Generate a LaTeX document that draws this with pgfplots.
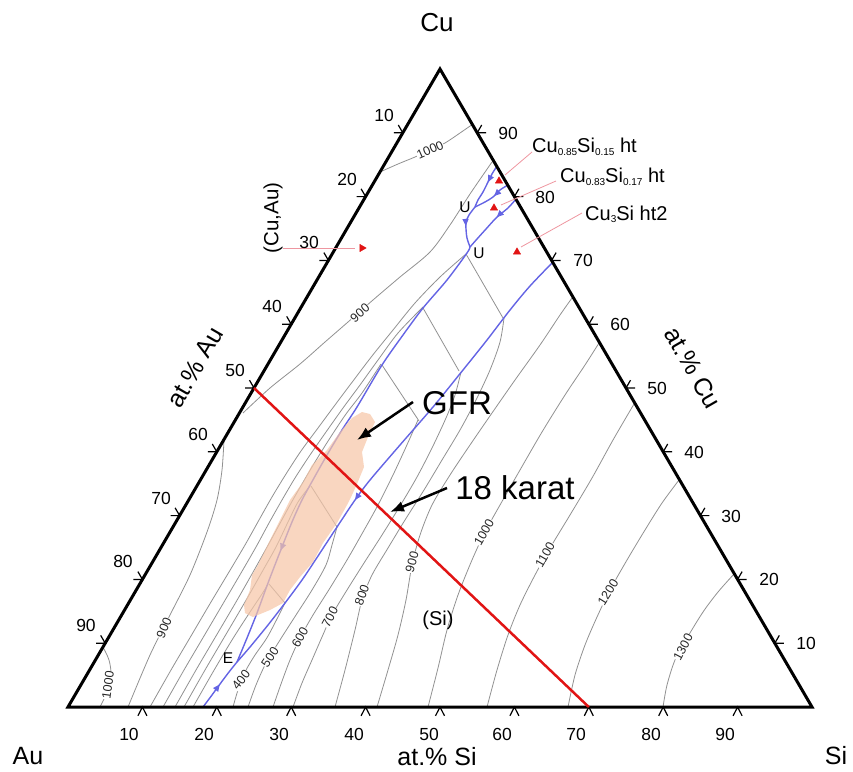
\documentclass[border=0pt]{standalone}
\usepackage{pgfplots}
\pgfplotsset{compat=1.18}
\usepackage{fontspec}
\setmainfont{Liberation Sans}
\usetikzlibrary{arrows.meta,decorations.markings}
\definecolor{iso}{RGB}{145,145,145}
\definecolor{liq}{RGB}{100,100,228}
\definecolor{gfr}{RGB}{246,198,168}
\definecolor{pinkl}{RGB}{238,150,160}
\definecolor{redl}{RGB}{225,20,20}
\newcommand{\fs}[1]{\fontsize{#1bp}{#1bp}\selectfont}
\newcommand{\sub}[1]{\raisebox{-2.5bp}{\fs{10}#1}}
\tikzset{
  isolab/.style={font=\fs{12.5}, fill=white, inner sep=0.5bp, text=black!85},
  tl/.style={font=\fs{17.5}},
  arrowat/.style={postaction={decorate}, decoration={markings, mark=at position #1 with {\arrow{Triangle[length=7bp,width=6bp]}}}},
}
\begin{document}
\begin{tikzpicture}
\begin{axis}[
  width=853bp, height=772bp, scale only axis,
  xmin=0, xmax=853, ymin=0, ymax=772, y dir=reverse,
  hide axis, clip=false, unbounded coords=jump,
]
\addplot[draw=none, forget plot] coordinates {(0,0) (853,772)};

% ---------- grey isotherms ----------
\pgfplotsset{isoline/.style={iso, line width=0.8bp, smooth}}
% (Cu,Au) field
\addplot[isoline] coordinates {(380,172) (398,164) (415,157) (430,150) (445,143) (460,133) (473,124)};
\addplot[isoline] coordinates {(243,413) (270,388) (300,364) (325,342) (348,322) (373,300) (400,277) (430,252) (450,225) (470,194) (492,162)};
\addplot[isoline] coordinates {(224,440) (222,470) (217,500) (207,532) (190,575) (170,615) (150,655) (128,707)};
\addplot[isoline] coordinates {(103,647) (109,660) (111,675) (107,692) (100,707)};
\addplot[isoline] coordinates {(193,707) (213,672) (232,640) (250,612) (262,594) (268,584)};
\addplot[isoline] coordinates {(184,707) (205,670) (225,636) (245,602) (262,572) (276,547) (288,522) (298,502) (310,486)};
\addplot[isoline] coordinates {(175,707) (196,670) (216,636) (236,602) (252,574) (266,549) (278,527) (290,505) (302,484) (315,462) (330,438) (346,414) (362,393) (381,364)};
\addplot[isoline] coordinates {(163,707) (184,670) (204,636) (224,602) (241,573) (256,547) (269,523) (282,500) (295,478) (310,455) (326,432) (343,408) (360,385) (378,360) (398,333) (423,307)};
\addplot[isoline] coordinates {(150,707) (171,670) (191,636) (211,602) (229,572) (245,545) (259,520) (272,497) (286,474) (301,451) (318,428) (335,405) (353,381) (372,356) (393,330) (415,303) (440,277) (466,254)};
% Cu3Si field
\addplot[iso, line width=0.8bp] coordinates {(466,254) (503,318)};
\addplot[iso, line width=0.8bp] coordinates {(423,308) (459,371)};
\addplot[iso, line width=0.8bp] coordinates {(382,365) (419,421)};
\addplot[iso, line width=0.8bp] coordinates {(311,486) (337,527)};
\addplot[iso, line width=0.8bp] coordinates {(269,584) (285,603)};
% (Si) field
\addplot[isoline] coordinates {(233,707) (238,690) (245,672) (255,655) (268,636) (285,603)};
\addplot[isoline] coordinates {(248,707) (256,685) (266,663) (280,640) (296,615) (312,590) (326,565) (332,545) (337,527)};
\addplot[isoline] coordinates {(273,707) (281,684) (290,660) (300,638) (313,615) (330,588) (347,560) (363,532) (378,505) (393,475) (406,447) (418,420)};
\addplot[isoline] coordinates {(293,707) (302,683) (312,660) (322,637) (332,615) (347,590) (364,563) (382,535) (400,506) (417,477) (432,448) (446,418) (455,395) (461,372)};
\addplot[isoline] coordinates {(335,707) (345,670) (355,630) (362,600) (372,575) (388,548) (405,520) (424,490) (442,460) (460,430) (476,400) (490,370) (500,342) (504,318)};
\addplot[isoline] coordinates {(377,707) (388,670) (398,635) (406,600) (412,565) (420,535) (432,505) (450,475) (470,445) (492,413) (515,380) (540,345) (560,315) (572,298)};
\addplot[isoline] coordinates {(428,707) (438,668) (447,630) (458,595) (472,560) (485,532) (500,505) (520,470) (542,432) (565,395) (585,365) (599,343)};
\addplot[isoline] coordinates {(487,707) (497,670) (508,635) (520,605) (535,575) (550,548) (570,515) (592,478) (613,440) (634,404)};
\addplot[isoline] coordinates {(568,707) (575,675) (585,645) (597,617) (610,590) (627,560) (645,530) (662,503) (679,480)};
\addplot[isoline] coordinates {(663,707) (667,685) (675,660) (687,638) (703,612) (718,592) (734,574)};

% isotherm labels
\node[isolab, rotate=24] at (axis cs:430,150) {1000};
\node[isolab, rotate=41] at (axis cs:360,313) {900};
\node[isolab, rotate=67] at (axis cs:164,628) {900};
\node[isolab, rotate=82] at (axis cs:108,685) {1000};
\node[isolab, rotate=52] at (axis cs:241,680) {400};
\node[isolab, rotate=56] at (axis cs:270,657) {500};
\node[isolab, rotate=60] at (axis cs:300,637) {600};
\node[isolab, rotate=62] at (axis cs:330,617) {700};
\node[isolab, rotate=70] at (axis cs:362,595) {800};
\node[isolab, rotate=75] at (axis cs:412,562) {900};
\node[isolab, rotate=60] at (axis cs:484,532) {1000};
\node[isolab, rotate=60] at (axis cs:545,555) {1100};
\node[isolab, rotate=58] at (axis cs:608,592) {1200};
\node[isolab, rotate=62] at (axis cs:683,647) {1300};

% ---------- monovariant lines ----------
\pgfplotsset{liqline/.style={liq, line width=1.4bp, smooth}}
\addplot[liqline, arrowat=0.5] coordinates {(203,707) (212,695) (220,684) (229,672) (237,662)};
\addplot[liqline, arrowat=0.75] coordinates {(470,247) (467,253) (447,280) (423,308) (403,335) (382,365) (357,407) (342,430) (327,455) (314,478) (302,500) (292,522) (280,552) (268,583) (257,613) (247,638) (237,662)};
\addplot[liqline, arrowat=0.607] coordinates {(553,262) (530,286) (510,310) (487,340) (463,370) (433,407) (400,445) (370,480) (355,500) (337,527) (318,556) (302,580) (285,603) (268,625) (250,647) (237,662)};
\addplot[liqline, arrowat=0.4] coordinates {(497,166) (492,174) (488,182) (483,192) (478,200) (475,207)};
\addplot[liqline, arrowat=0.45] coordinates {(508,185) (500,190) (493,197) (485,202) (475,207)};
\addplot[liqline, arrowat=0.5] coordinates {(475,207) (469,215) (466,222) (466,229) (467,238) (470,247)};
\addplot[liqline, arrowat=0.4] coordinates {(516,199) (508,208) (497,217) (486,229) (477,239) (470,247)};

% ---------- GFR ----------
\addplot[draw=none, fill=gfr, fill opacity=0.72] coordinates {(370,414) (375,422) (368,437) (362,452) (364,467) (357,484) (352,495) (347,505) (337,523) (323,543) (313,562) (300,577) (290,590) (283,603) (270,610) (253,617) (245,613) (244,605) (250,590) (252,575) (258,565) (270,540) (280,520) (290,500) (303,482) (312,465) (327,450) (340,432) (352,418) (362,412)} -- cycle;

% ---------- triangle frame and ticks ----------
\addplot[black, line width=3bp] coordinates {(68,707) (812,707) (440,69)} -- cycle;
\addplot[black, line width=1.2bp] coordinates {
(137.9,715.8) (142.4,707) (146.9,715.8) (nan,nan)
(212.3,715.8) (216.8,707) (221.3,715.8) (nan,nan)
(286.7,715.8) (291.2,707) (295.7,715.8) (nan,nan)
(361.1,715.8) (365.6,707) (370.1,715.8) (nan,nan)
(435.5,715.8) (440,707) (444.5,715.8) (nan,nan)
(509.9,715.8) (514.4,707) (518.9,715.8) (nan,nan)
(584.3,715.8) (588.8,707) (593.3,715.8) (nan,nan)
(658.7,715.8) (663.2,707) (667.7,715.8) (nan,nan)
(733.1,715.8) (737.6,707) (742.1,715.8) (nan,nan)
(398.3,125.0) (402.8,132.8) (393.8,132.8) (nan,nan)
(361.1,188.8) (365.6,196.6) (356.6,196.6) (nan,nan)
(323.9,252.6) (328.4,260.4) (319.4,260.4) (nan,nan)
(286.7,316.4) (291.2,324.2) (282.2,324.2) (nan,nan)
(249.5,380.2) (254,388) (245,388) (nan,nan)
(212.3,444.0) (216.8,451.8) (207.8,451.8) (nan,nan)
(175.1,507.8) (179.6,515.6) (170.6,515.6) (nan,nan)
(137.9,571.6) (142.4,579.4) (133.4,579.4) (nan,nan)
(100.7,635.4) (105.2,643.2) (96.2,643.2) (nan,nan)
(783.8,643.2) (774.8,643.2) (779.3,635.4) (nan,nan)
(746.6,579.4) (737.6,579.4) (742.1,571.6) (nan,nan)
(709.4,515.6) (700.4,515.6) (704.9,507.8) (nan,nan)
(672.2,451.8) (663.2,451.8) (667.7,444.0) (nan,nan)
(635,388) (626,388) (630.5,380.2) (nan,nan)
(597.8,324.2) (588.8,324.2) (593.3,316.4) (nan,nan)
(560.6,260.4) (551.6,260.4) (556.1,252.6) (nan,nan)
(523.4,196.6) (514.4,196.6) (518.9,188.8) (nan,nan)
(486.2,132.8) (477.2,132.8) (481.7,125.0)
};

% ---------- 18 karat line ----------
\addplot[redl, line width=2.5bp] coordinates {(254,388) (588.8,707)};

% ---------- pointers and markers ----------
\addplot[pinkl, line width=0.8bp] coordinates {(532,152) (505,175)};
\addplot[pinkl, line width=0.8bp] coordinates {(556,181) (501,205)};
\addplot[pinkl, line width=0.8bp] coordinates {(582,213) (521,247)};
\addplot[pinkl, line width=0.8bp] coordinates {(283,248) (355,248)};
\addplot[only marks, mark=triangle*, mark size=4.2bp, color=redl] coordinates {(499,181) (494,208) (517,252)};
\addplot[only marks, mark=triangle*, mark size=4.2bp, color=redl, mark options={rotate=-90}] coordinates {(362,248)};
\addplot[black, line width=2.5bp, -{Latex[length=14bp,width=11bp]}] coordinates {(413,402) (357,440)};
\addplot[black, line width=2.5bp, -{Latex[length=14bp,width=11bp]}] coordinates {(447,488) (390,512)};

% ---------- tick labels ----------
\node[tl] at (axis cs:384,115) {10};
\node[tl] at (axis cs:347,179) {20};
\node[tl] at (axis cs:309,242) {30};
\node[tl] at (axis cs:272,306) {40};
\node[tl] at (axis cs:235,370) {50};
\node[tl] at (axis cs:198,434) {60};
\node[tl] at (axis cs:161,498) {70};
\node[tl] at (axis cs:123,561) {80};
\node[tl] at (axis cs:86,625) {90};
\node[tl] at (axis cs:806,643) {10};
\node[tl] at (axis cs:769,579) {20};
\node[tl] at (axis cs:731,516) {30};
\node[tl] at (axis cs:694,452) {40};
\node[tl] at (axis cs:657,388) {50};
\node[tl] at (axis cs:620,324) {60};
\node[tl] at (axis cs:583,260) {70};
\node[tl] at (axis cs:545,197) {80};
\node[tl] at (axis cs:508,133) {90};
\node[tl] at (axis cs:129,734) {10};
\node[tl] at (axis cs:204,734) {20};
\node[tl] at (axis cs:279,734) {30};
\node[tl] at (axis cs:354,734) {40};
\node[tl] at (axis cs:429,734) {50};
\node[tl] at (axis cs:502,734) {60};
\node[tl] at (axis cs:576,734) {70};
\node[tl] at (axis cs:651,734) {80};
\node[tl] at (axis cs:725,734) {90};

% ---------- titles and labels ----------
\node[font=\fs{26}] at (axis cs:437,23) {Cu};
\node[font=\fs{25}, inner sep=0pt] at (axis cs:28,756) {Au};
\node[font=\fs{25}, inner sep=0pt] at (axis cs:836,756) {Si};
\node[font=\fs{25}, inner sep=1pt] at (axis cs:437,757) {at.\% Si};
\node[font=\fs{25}, rotate=60] at (axis cs:195,367) {at.\% Au};
\node[font=\fs{25}, rotate=-60] at (axis cs:693,368) {at.\% Cu};
\node[font=\fs{33}] at (axis cs:457,403) {GFR};
\node[font=\fs{33}] at (axis cs:515,488) {18 karat};
\node[font=\fs{20.5}, rotate=90] at (axis cs:273,218) {(Cu,Au)};
\node[font=\fs{20}] at (axis cs:438,620) {(Si)};
\node[font=\fs{15.5}] at (axis cs:465,207) {U};
\node[font=\fs{15.5}] at (axis cs:479,253) {U};
\node[font=\fs{15.5}] at (axis cs:228,658) {E};
\node[font=\fs{20}, anchor=base west, inner sep=0pt] at (axis cs:532,153) {Cu\sub{0.85}Si\sub{0.15} ht};
\node[font=\fs{20}, anchor=base west, inner sep=0pt] at (axis cs:560,183) {Cu\sub{0.83}Si\sub{0.17} ht};
\node[font=\fs{20}, anchor=base west, inner sep=0pt] at (axis cs:585,220) {Cu\sub{3}Si ht2};
\end{axis}
\end{tikzpicture}
\end{document}
